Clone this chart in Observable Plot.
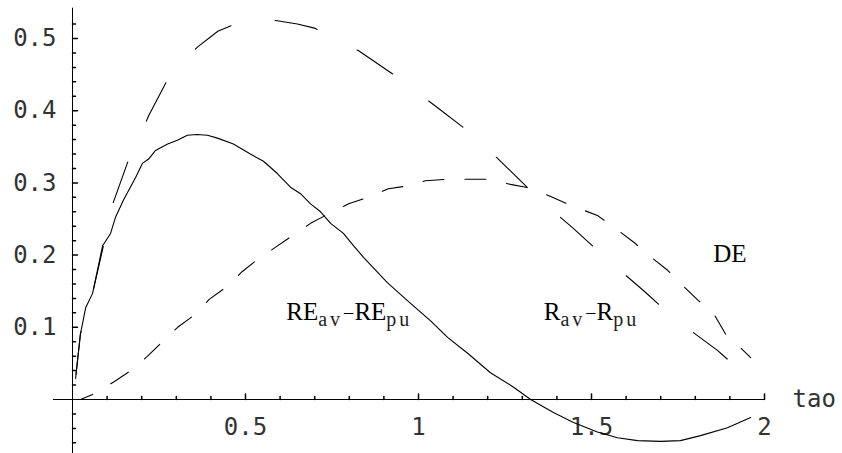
<!DOCTYPE html>
<html>
<head>
<meta charset="utf-8">
<script src="https://cdn.jsdelivr.net/npm/d3@7"></script>
<script src="https://cdn.jsdelivr.net/npm/@observablehq/plot@0.6"></script>
<style>
  html, body { margin: 0; padding: 0; background: #fff; }
</style>
</head>
<body>
<div id="chart"></div>
<script>
// ---- data ----
const solidTao = [0.009,0.023,0.038,0.058,0.087,0.11,0.124,0.147,0.182,0.202,0.22,0.24,0.275,0.303,0.332,0.36,0.39,0.419,0.465,0.514,0.552,0.592,0.63,0.659,0.688,0.717,0.746,0.783,0.812,0.841,0.91,0.968,1.035,1.084,1.142,1.208,1.275,1.324,1.39,1.448,1.517,1.575,1.633,1.7,1.757,1.815,1.893,1.96];
const solidVal = [0.029,0.091,0.127,0.147,0.213,0.23,0.252,0.276,0.307,0.327,0.333,0.345,0.354,0.359,0.366,0.367,0.366,0.362,0.354,0.34,0.33,0.313,0.294,0.285,0.271,0.26,0.244,0.23,0.213,0.197,0.162,0.137,0.109,0.086,0.064,0.037,0.017,0,-0.018,-0.032,-0.045,-0.053,-0.057,-0.058,-0.057,-0.05,-0.039,-0.025];

const rTao = [0.012,0.023,0.058,0.118,0.168,0.217,0.26,0.304,0.355,0.396,0.448,0.49,0.532,0.584,0.636,0.688,0.743,0.798,0.853,0.913,0.971,1.02,1.084,1.142,1.202,1.266,1.33,1.387,1.44,1.517,1.569,1.627,1.665,1.72,1.757,1.809,1.853,1.887,1.93,1.96];
const rVal = [0,0,0.007,0.024,0.04,0.06,0.08,0.1,0.118,0.139,0.157,0.177,0.193,0.21,0.227,0.244,0.258,0.271,0.28,0.292,0.296,0.303,0.305,0.305,0.305,0.298,0.292,0.28,0.269,0.255,0.237,0.216,0.2,0.179,0.161,0.137,0.119,0.091,0.072,0.058];

const deTao = [0.01,0.023,0.058,0.1,0.118,0.159,0.2,0.22,0.277,0.32,0.361,0.42,0.47,0.5,0.55,0.587,0.65,0.702,0.72,0.827,0.94,1.058,1.159,1.25,1.35,1.445,1.555,1.65,1.74,1.864,1.954];
const deVal = [0.035,0.091,0.147,0.235,0.273,0.328,0.37,0.393,0.445,0.47,0.488,0.51,0.52,0.524,0.525,0.525,0.52,0.514,0.508,0.483,0.446,0.403,0.366,0.324,0.277,0.238,0.19,0.151,0.112,0.068,0.03];

const xMajor = [0.5, 1, 1.5, 2];
const xMajorLabels = ["0.5", "1", "1.5", "2"];
const xMinor = [0.1,0.2,0.3,0.4,0.6,0.7,0.8,0.9,1.1,1.2,1.3,1.4,1.6,1.7,1.8,1.9];
const yMajor = [0.1, 0.2, 0.3, 0.4, 0.5];
const yMajorLabels = ["0.1", "0.2", "0.3", "0.4", "0.5"];
const yMinor = [-0.06,-0.04,-0.02,0.02,0.04,0.06,0.08,0.12,0.14,0.16,0.18,0.22,0.24,0.26,0.28,0.32,0.34,0.36,0.38,0.42,0.44,0.46,0.48,0.52];
const xRange = [-0.055, 2];
const yRange = [-0.08, 0.542];
const axisLabel = "tao";

const labelKeys = ["REav-REpu", "Rav-Rpu", "DE"];
const labelTao = [0.8, 1.5, 1.9];
const labelVal = [0.11, 0.11, 0.19];
const labelParts = {
  "REav-REpu": [["RE", 0], ["av", 1], ["\u2212", 0], ["RE", 0], ["pu", 1]],
  "Rav-Rpu": [["R", 0], ["av", 1], ["\u2212", 0], ["R", 0], ["pu", 1]],
  "DE": [["DE", 0]]
};

// ---- tables ----
const solid = solidTao.map((t, i) => ({t, v: solidVal[i]}));
const rdiff = rTao.map((t, i) => ({t, v: rVal[i]}));
const de = deTao.map((t, i) => ({t, v: deVal[i]}));
const labels = labelKeys.map((k, i) => ({k, t: labelTao[i], v: labelVal[i]}));

const tickShape = {draw(context, l) { context.moveTo(0, 0); context.lineTo(0, -l); }};
const monoFont = "DejaVu Sans Mono";
const tickText = "#333";

const chart = Plot.plot({
  width: 842,
  height: 453,
  marginLeft: 72,
  marginRight: 78,
  marginTop: 38,
  marginBottom: 54,
  x: {domain: [0, 2], axis: null},
  y: {domain: [0, 0.5], axis: null},
  style: {background: "#fff", color: "#000"},
  marks: [
    // axes
    Plot.ruleY([0], {x1: xRange[0], x2: xRange[1], stroke: "#000", strokeWidth: 1}),
    Plot.ruleX([0], {y1: yRange[0], y2: yRange[1], stroke: "#000", strokeWidth: 1}),
    Plot.vector(xMajor, {x: d => d, y: 0, length: 5.5, rotate: 0, anchor: "start", shape: tickShape, stroke: "#000"}),
    Plot.vector(xMinor, {x: d => d, y: 0, length: 3, rotate: 0, anchor: "start", shape: tickShape, stroke: "#000"}),
    Plot.vector(yMajor, {x: 0, y: d => d, length: 5, rotate: 90, anchor: "start", shape: tickShape, stroke: "#000"}),
    Plot.vector(yMinor, {x: 0, y: d => d, length: 3, rotate: 90, anchor: "start", shape: tickShape, stroke: "#000"}),
    Plot.text(xMajor, {x: d => d, y: 0, text: (d, i) => xMajorLabels[i], dy: 18, lineAnchor: "top", textAnchor: "middle", fontFamily: monoFont, fontSize: 24, fill: tickText}),
    Plot.text(yMajor, {x: 0, y: d => d, text: (d, i) => yMajorLabels[i], dx: -16, lineAnchor: "middle", textAnchor: "end", fontFamily: monoFont, fontSize: 24, fill: tickText}),
    Plot.text([axisLabel], {x: xRange[1], y: 0, text: d => d, dx: 28, lineAnchor: "middle", textAnchor: "start", fontFamily: monoFont, fontSize: 24, fill: tickText}),
    // curves
    Plot.line(solid, {x: "t", y: "v", stroke: "#000", strokeWidth: 1.1}),
    Plot.line(rdiff, {x: "t", y: "v", stroke: "#000", strokeWidth: 1.1, strokeDasharray: "21,21", strokeDashoffset: 4}),
    Plot.line(de, {x: "t", y: "v", stroke: "#000", strokeWidth: 1.1, strokeDasharray: "43,45"}),
    // curve labels
    Plot.text(labels, {x: "t", y: "v", text: "k", lineAnchor: "bottom", textAnchor: "middle", fontFamily: "Liberation Serif", fontSize: 25, fill: "#000"})
  ]
});

document.getElementById("chart").appendChild(chart);

// rich text (subscripts) for the curve labels
d3.select(chart).selectAll("text").each(function () {
  const parts = labelParts[this.textContent];
  if (!parts) return;
  const el = d3.select(this);
  el.text(null);
  let down = false;
  for (const [s, sub] of parts) {
    const ts = el.append("tspan").text(s).style("font-family", "'Liberation Serif', serif");
    if (sub) {
      ts.style("font-size", "20px").style("letter-spacing", "3px").attr("fill", "#222");
      if (!down) { ts.attr("dy", 6); down = true; }
    } else {
      ts.style("font-size", s === "\u2212" ? "20px" : "25px");
      if (down) { ts.attr("dy", -6); down = false; }
    }
  }
});
</script>
</body>
</html>
